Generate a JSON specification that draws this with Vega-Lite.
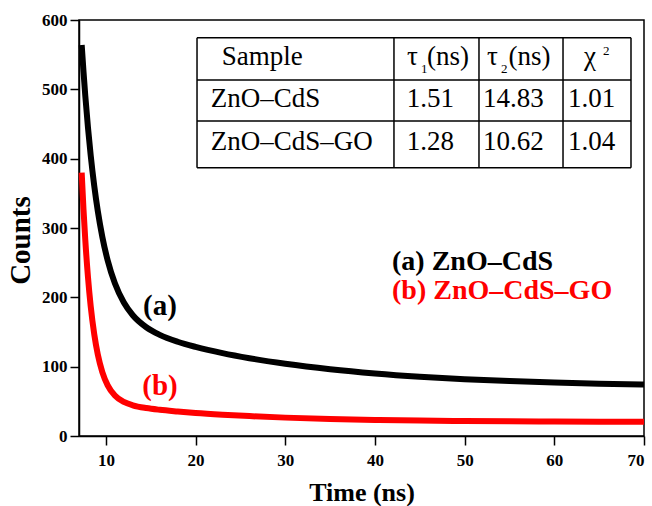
{
  "$schema": "https://vega.github.io/schema/vega-lite/v6.json",
  "width": 565,
  "height": 416,
  "autosize": {"type": "none"},
  "padding": {"left": 79, "top": 20, "right": 8, "bottom": 70},
  "background": "white",
  "config": {
    "view": {"stroke": "black", "strokeWidth": 1.5},
    "axis": {
      "domainColor": "black", "domainWidth": 1.5,
      "tickColor": "black", "tickWidth": 1.5, "tickSize": 9,
      "labelFont": "Liberation Serif", "labelFontWeight": "bold", "labelFontSize": 17, "labelColor": "black",
      "titleFont": "Liberation Serif", "titleFontWeight": "bold", "titleColor": "black",
      "grid": false
    }
  },
  "datasets": {
    "curves": [
      {"series": "a", "time": 7.3, "counts": 564},
      {"series": "a", "time": 7.5, "counts": 525.7},
      {"series": "a", "time": 7.7, "counts": 490.9},
      {"series": "a", "time": 8.0, "counts": 445},
      {"series": "a", "time": 8.3, "counts": 405.3},
      {"series": "a", "time": 8.7, "counts": 360.9},
      {"series": "a", "time": 9.1, "counts": 324.2},
      {"series": "a", "time": 9.6, "counts": 287.3},
      {"series": "a", "time": 10.2, "counts": 253.1},
      {"series": "a", "time": 11, "counts": 220.2},
      {"series": "a", "time": 12, "counts": 192.5},
      {"series": "a", "time": 13, "counts": 174.2},
      {"series": "a", "time": 14.5, "counts": 156.9},
      {"series": "a", "time": 16, "counts": 145.9},
      {"series": "a", "time": 18, "counts": 135.9},
      {"series": "a", "time": 20, "counts": 128.5},
      {"series": "a", "time": 23, "counts": 119.5},
      {"series": "a", "time": 26, "counts": 112.2},
      {"series": "a", "time": 30, "counts": 104.2},
      {"series": "a", "time": 35, "counts": 96.3},
      {"series": "a", "time": 40, "counts": 90.2},
      {"series": "a", "time": 45, "counts": 85.5},
      {"series": "a", "time": 50, "counts": 81.9},
      {"series": "a", "time": 55, "counts": 79.2},
      {"series": "a", "time": 60, "counts": 77.1},
      {"series": "a", "time": 65, "counts": 75.4},
      {"series": "a", "time": 70, "counts": 74.2},
      {"series": "b", "time": 7.3, "counts": 380},
      {"series": "b", "time": 7.5, "counts": 327.3},
      {"series": "b", "time": 7.7, "counts": 283},
      {"series": "b", "time": 8.0, "counts": 229.3},
      {"series": "b", "time": 8.3, "counts": 187.7},
      {"series": "b", "time": 8.7, "counts": 146.7},
      {"series": "b", "time": 9.1, "counts": 117.3},
      {"series": "b", "time": 9.6, "counts": 92.2},
      {"series": "b", "time": 10.2, "counts": 73.1},
      {"series": "b", "time": 11, "counts": 58.4},
      {"series": "b", "time": 12, "counts": 49.1},
      {"series": "b", "time": 13, "counts": 44.3},
      {"series": "b", "time": 14.5, "counts": 40.3},
      {"series": "b", "time": 16, "counts": 37.8},
      {"series": "b", "time": 18, "counts": 35.4},
      {"series": "b", "time": 20, "counts": 33.3},
      {"series": "b", "time": 23, "counts": 30.8},
      {"series": "b", "time": 26, "counts": 28.7},
      {"series": "b", "time": 30, "counts": 26.5},
      {"series": "b", "time": 35, "counts": 24.6},
      {"series": "b", "time": 40, "counts": 23.2},
      {"series": "b", "time": 45, "counts": 22.2},
      {"series": "b", "time": 50, "counts": 21.6},
      {"series": "b", "time": 55, "counts": 21.1},
      {"series": "b", "time": 60, "counts": 20.8},
      {"series": "b", "time": 65, "counts": 20.5},
      {"series": "b", "time": 70, "counts": 20.4}
    ],
    "curveLabels": [
      {"series": "a", "time": 16.03, "counts": 174.5, "text": "(a)"},
      {"series": "b", "time": 16.03, "counts": 59.1, "text": "(b)"}
    ],
    "legendText": [
      {"series": "a", "time": 41.9, "counts": 240.1, "text": "(a) ZnO–CdS"},
      {"series": "b", "time": 41.9, "counts": 198.3, "text": "(b) ZnO–CdS–GO"}
    ],
    "tableLines": [
      {"time": 20.16, "time2": 68.55, "counts": 574.5, "counts2": 574.5},
      {"time": 20.16, "time2": 68.55, "counts": 513.5, "counts2": 513.5},
      {"time": 20.16, "time2": 68.55, "counts": 454.3, "counts2": 454.3},
      {"time": 20.16, "time2": 68.55, "counts": 387.0, "counts2": 387.0},
      {"time": 20.16, "time2": 20.16, "counts": 387.0, "counts2": 574.5},
      {"time": 42.12, "time2": 42.12, "counts": 387.0, "counts2": 574.5},
      {"time": 51.6, "time2": 51.6, "counts": 387.0, "counts2": 574.5},
      {"time": 60.97, "time2": 60.97, "counts": 387.0, "counts2": 574.5},
      {"time": 68.55, "time2": 68.55, "counts": 387.0, "counts2": 574.5}
    ],
    "tableText": [
      {"time": 22.91, "counts": 535.1, "text": "Sample"},
      {"time": 43.57, "counts": 535.1, "text": "τ"},
      {"time": 45.8, "counts": 535.1, "text": "(ns)"},
      {"time": 52.49, "counts": 535.1, "text": "τ"},
      {"time": 54.89, "counts": 535.1, "text": "(ns)"},
      {"time": 63.31, "counts": 535.1, "text": "χ"},
      {"time": 21.68, "counts": 475.0, "text": "ZnO–CdS"},
      {"time": 43.54, "counts": 475.0, "text": "1.51"},
      {"time": 52.05, "counts": 475.0, "text": "14.83"},
      {"time": 61.52, "counts": 475.0, "text": "1.01"},
      {"time": 21.68, "counts": 412.5, "text": "ZnO–CdS–GO"},
      {"time": 43.54, "counts": 412.5, "text": "1.28"},
      {"time": 52.05, "counts": 412.5, "text": "10.62"},
      {"time": 61.52, "counts": 412.5, "text": "1.04"}
    ],
    "tableSmall": [
      {"time": 45.13, "counts": 523.1, "text": "1"},
      {"time": 54.05, "counts": 523.1, "text": "2"},
      {"time": 65.43, "counts": 550.0, "text": "2"}
    ]
  },
  "encoding": {
    "x": {
      "field": "time", "type": "quantitative",
      "scale": {"domain": [7, 70], "nice": false, "zero": false},
      "axis": {"values": [10, 20, 30, 40, 50, 60, 70], "title": "Time (ns)", "titleFontSize": 26, "titlePadding": 11, "labelPadding": 7}
    },
    "y": {
      "field": "counts", "type": "quantitative",
      "scale": {"domain": [0, 600], "nice": false},
      "axis": {"values": [0, 100, 200, 300, 400, 500, 600], "title": "Counts", "titleFontSize": 29, "titlePadding": 6, "labelPadding": 3, "titleY": 220}
    }
  },
  "layer": [
    {
      "data": {"name": "curves"},
      "mark": {"type": "line", "strokeWidth": 6, "strokeJoin": "round", "interpolate": "monotone"},
      "encoding": {
        "color": {"field": "series", "type": "nominal", "scale": {"domain": ["a", "b"], "range": ["#000000", "#ff0000"]}, "legend": null},
        "detail": {"field": "series"}
      }
    },
    {
      "data": {"name": "curveLabels"},
      "mark": {"type": "text", "font": "Liberation Serif", "fontWeight": "bold", "fontSize": 29, "align": "center", "baseline": "alphabetic"},
      "encoding": {
        "text": {"field": "text"},
        "color": {"field": "series", "type": "nominal", "scale": {"domain": ["a", "b"], "range": ["#000000", "#ff0000"]}, "legend": null}
      }
    },
    {
      "data": {"name": "legendText"},
      "mark": {"type": "text", "font": "Liberation Serif", "fontWeight": "bold", "fontSize": 28, "align": "left", "baseline": "alphabetic"},
      "encoding": {
        "text": {"field": "text"},
        "color": {"field": "series", "type": "nominal", "scale": {"domain": ["a", "b"], "range": ["#000000", "#ff0000"]}, "legend": null}
      }
    },
    {
      "data": {"name": "tableLines"},
      "mark": {"type": "rule", "color": "black", "strokeWidth": 1.5},
      "encoding": {
        "x2": {"field": "time2"},
        "y2": {"field": "counts2"}
      }
    },
    {
      "data": {"name": "tableText"},
      "mark": {"type": "text", "font": "Liberation Serif", "fontSize": 27, "align": "left", "baseline": "alphabetic", "color": "black"},
      "encoding": {"text": {"field": "text"}}
    },
    {
      "data": {"name": "tableSmall"},
      "mark": {"type": "text", "font": "Liberation Serif", "fontSize": 13, "align": "left", "baseline": "alphabetic", "color": "black"},
      "encoding": {"text": {"field": "text"}}
    }
  ]
}
